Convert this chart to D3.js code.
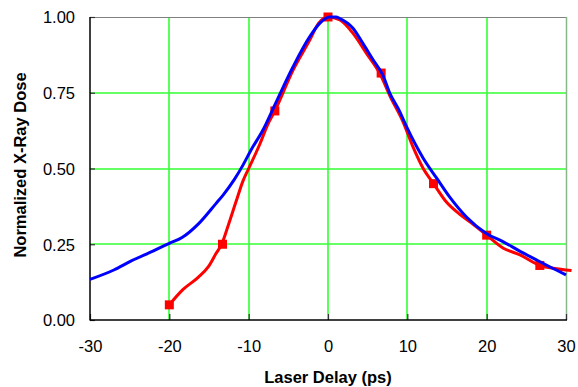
<!DOCTYPE html>
<html>
<head>
<meta charset="utf-8">
<script src="https://cdn.jsdelivr.net/npm/d3@7"></script>
<style>
html,body{margin:0;padding:0;background:#fff;}
svg{display:block;}
text{font-family:Arial,"Liberation Sans",sans-serif;fill:#000;}
</style>
</head>
<body>
<svg id="chart" width="578" height="387"></svg>
<script>
// ---- data ----
const xTicks = [-30, -20, -10, 0, 10, 20, 30];
const yTicks = [0, 0.25, 0.5, 0.75, 1.0];
const xTickLabels = ["-30", "-20", "-10", "0", "10", "20", "30"];
const yTickLabels = ["0.00", "0.25", "0.50", "0.75", "1.00"];
const xTitle = "Laser Delay (ps)";
const yTitle = "Normalized X-Ray Dose";

const blueX = [-30, -27, -24.8, -22, -20, -18.4, -16.3, -14.1, -13.2, -11.8, -10.7, -9.7, -8.2, -6.7, -4.4, -2.3, -1.05, 0.2, 1.0, 1.5, 3.15, 4.4, 5.7, 6.9, 7.8, 9.0, 9.9, 12.0, 13.7, 15.3, 17.45, 20, 22.1, 24, 26.3, 28, 30];
const blueY = [0.134, 0.165, 0.195, 0.228, 0.253, 0.272, 0.318, 0.385, 0.413, 0.464, 0.512, 0.561, 0.627, 0.71, 0.836, 0.935, 0.979, 1.0, 1.0, 0.995, 0.963, 0.913, 0.858, 0.809, 0.748, 0.69, 0.638, 0.534, 0.468, 0.407, 0.34, 0.285, 0.258, 0.23, 0.198, 0.175, 0.149];

const redX = [-20, -18.3, -16.4, -15.1, -14.1, -13.4, -12.6, -11.6, -10.7, -10, -8.6, -7.6, -6.7, -4.4, -2.3, -1.2, 0, 1.5, 3.15, 4.85, 6.6, 7.8, 9.46, 10.7, 12.0, 13.3, 14.9, 16.7, 18.3, 20, 22.1, 24.2, 26.7, 28.4, 30.7];
const redY = [0.05, 0.10, 0.14, 0.175, 0.22, 0.25, 0.31, 0.39, 0.46, 0.5, 0.58, 0.645, 0.69, 0.825, 0.924, 0.979, 1.0, 0.99, 0.946, 0.88, 0.81, 0.74, 0.654, 0.572, 0.5, 0.45, 0.39, 0.347, 0.316, 0.28, 0.237, 0.215, 0.18, 0.171, 0.163];

const markX = [-20, -13.3, -6.7, 0, 6.7, 13.3, 20, 26.7];
const markY = [0.05, 0.25, 0.69, 1.0, 0.815, 0.45, 0.28, 0.18];

// ---- layout ----
const svg = d3.select("#chart");
const L = 90, R = 566, T = 17, B = 320;
const x = d3.scaleLinear().domain([-30, 30]).range([L, R]);
const y = d3.scaleLinear().domain([0, 1]).range([B, T]);
const gridColor = "#33ff33";

// gridlines
const g = svg.append("g");
g.selectAll(".vg").data(xTicks.filter(d => d > -30 && d < 30)).enter().append("line")
  .attr("x1", d => Math.round(x(d))).attr("x2", d => Math.round(x(d)))
  .attr("y1", T).attr("y2", B).attr("stroke", gridColor).attr("stroke-width", 1.6);
g.selectAll(".hg").data(yTicks.filter(d => d > 0 && d < 1)).enter().append("line")
  .attr("x1", L).attr("x2", R)
  .attr("y1", d => Math.round(y(d))).attr("y2", d => Math.round(y(d)))
  .attr("stroke", gridColor).attr("stroke-width", 1.6);

// border top/right
svg.append("line").attr("x1", L).attr("x2", R).attr("y1", T + 0.5).attr("y2", T + 0.5)
  .attr("stroke", "#808080").attr("stroke-width", 1);
svg.append("line").attr("x1", R + 0.5).attr("x2", R + 0.5).attr("y1", T).attr("y2", B)
  .attr("stroke", "#88b888").attr("stroke-width", 1.5);

// axes (inner ticks)
const xAxis = d3.axisBottom(x).tickValues(xTicks).tickSize(-6).tickPadding(0)
  .tickFormat((d, i) => xTickLabels[i]);
const xa = svg.append("g").attr("transform", `translate(0,${B})`).call(xAxis);
xa.selectAll(".tick line").attr("stroke", "#333").attr("stroke-width", 1.2);
xa.selectAll(".tick text").attr("font-size", 16.5).attr("dy", null).attr("y", 32)
  .style("font-family", "Arial, 'Liberation Sans', sans-serif");

const yAxis = d3.axisLeft(y).tickValues(yTicks).tickSize(-5).tickPadding(0)
  .tickFormat((d, i) => yTickLabels[i]);
const ya = svg.append("g").attr("transform", `translate(${L},0)`).call(yAxis);
ya.selectAll(".tick line").attr("stroke", "#333").attr("stroke-width", 1.2);
ya.selectAll(".tick text").attr("font-size", 16.5).attr("x", -15).attr("dy", "0.36em")
  .style("font-family", "Arial, 'Liberation Sans', sans-serif");
svg.selectAll(".domain").remove();
svg.append("line").attr("x1", L).attr("x2", L).attr("y1", T).attr("y2", B + 0.5)
  .attr("stroke", "#000").attr("stroke-width", 1.5);
svg.append("line").attr("x1", L).attr("x2", R + 1).attr("y1", B).attr("y2", B)
  .attr("stroke", "#000").attr("stroke-width", 1.5);

// lines
const line = d3.line().x(d => x(d[0])).y(d => y(d[1])).curve(d3.curveMonotoneX);
svg.append("path").datum(redX.map((v, i) => [v, redY[i]]))
  .attr("d", line).attr("fill", "none").attr("stroke", "#ff0000").attr("stroke-width", 3)
  .attr("stroke-linejoin", "round");
svg.selectAll(".mk").data(markX.map((v, i) => [v, markY[i]])).enter().append("rect")
  .attr("x", d => x(d[0]) - 4.5).attr("y", d => y(d[1]) - 4.5)
  .attr("width", 9).attr("height", 9).attr("fill", "#ff0000");
svg.append("path").datum(blueX.map((v, i) => [v, blueY[i]]))
  .attr("d", line).attr("fill", "none").attr("stroke", "#0000ff").attr("stroke-width", 3)
  .attr("stroke-linejoin", "round");

// titles
svg.append("text").attr("x", 328).attr("y", 383).attr("text-anchor", "middle")
  .attr("font-size", 16.5).attr("font-weight", "bold").text(xTitle);
svg.append("text").attr("transform", "translate(26,165) rotate(-90)").attr("text-anchor", "middle")
  .attr("font-size", 16.5).attr("font-weight", "bold").text(yTitle);
</script>
</body>
</html>
